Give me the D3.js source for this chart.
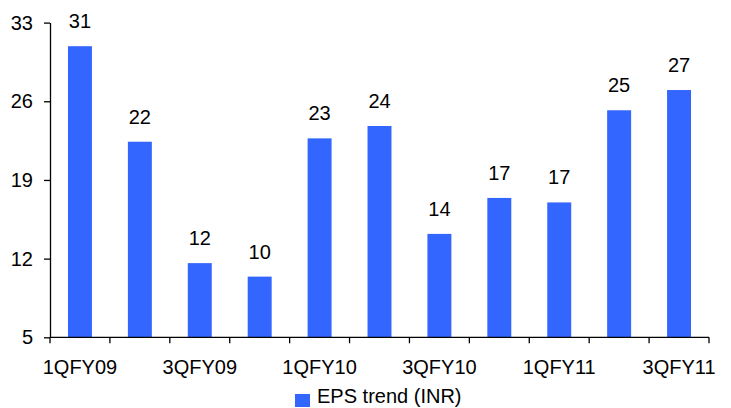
<!DOCTYPE html>
<html>
<head>
<meta charset="utf-8">
<script src="https://cdn.jsdelivr.net/npm/d3@7"></script>
<style>
  html, body { margin: 0; padding: 0; background: #fff; }
  svg { display: block; font-family: "Liberation Sans", Arial, sans-serif; }
</style>
</head>
<body>
<svg id="chart" width="731" height="408"></svg>
<script>
// Quarterly EPS (INR)
const quarters = ["1QFY09", "2QFY09", "3QFY09", "4QFY09", "1QFY10", "2QFY10",
                  "3QFY10", "4QFY10", "1QFY11", "2QFY11", "3QFY11"];
const eps = [30.9, 22.4, 11.6, 10.4, 22.7, 23.8, 14.2, 17.4, 17.0, 25.2, 27.0];
const yTicks = [5, 12, 19, 26, 33];
const seriesName = "EPS trend (INR)";

const barColor = "#3366FF";
const fontSize = 20;

const svg = d3.select("#chart");
const plotLeft = 50, plotRight = 709, plotTop = 22.6, plotBottom = 337.3;

const x = d3.scaleBand().domain(quarters).range([plotLeft, plotRight]).paddingInner(0.6).paddingOuter(0.3);
const y = d3.scaleLinear().domain([5, 33]).range([plotBottom, plotTop]);

// bars
svg.append("g").selectAll("rect")
  .data(eps)
  .join("rect")
  .attr("x", (d, i) => x(quarters[i]))
  .attr("width", x.bandwidth())
  .attr("y", d => y(d))
  .attr("height", d => y(5) - y(d))
  .attr("fill", barColor);

// value labels
svg.append("g").selectAll("text")
  .data(eps)
  .join("text")
  .attr("x", (d, i) => x(quarters[i]) + x.bandwidth() / 2)
  .attr("y", d => y(d) - 18)
  .attr("text-anchor", "middle")
  .attr("font-size", fontSize)
  .attr("fill", "#000")
  .text(d => d3.format(".0f")(d));

// y axis
const yAxis = svg.append("g")
  .attr("transform", `translate(${plotLeft},0)`)
  .call(d3.axisLeft(y).tickValues(yTicks).tickSize(6).tickPadding(11).tickSizeOuter(0));
yAxis.selectAll("text").attr("font-size", fontSize).attr("fill", "#000").attr("font-family", "Liberation Sans, Arial, sans-serif");
yAxis.selectAll("line, path").attr("stroke", "#000").attr("stroke-width", 1.3);

// x axis: labels on alternate quarters, tick marks between categories
const xAxis = svg.append("g")
  .attr("transform", `translate(0,${plotBottom})`)
  .call(d3.axisBottom(x)
    .tickValues(quarters.filter((q, i) => i % 2 === 0))
    .tickSize(0).tickSizeOuter(0).tickPadding(23));
xAxis.selectAll("text").attr("font-size", fontSize).attr("fill", "#000").attr("font-family", "Liberation Sans, Arial, sans-serif");
xAxis.select("path").attr("stroke", "#000").attr("stroke-width", 1.3)
  .attr("d", `M${plotLeft},0H${plotRight}`);

const boundaries = d3.range(quarters.length + 1).map(i => plotLeft + i * x.step());
xAxis.selectAll("line.sep")
  .data(boundaries)
  .join("line")
  .attr("class", "sep")
  .attr("x1", d => d).attr("x2", d => d)
  .attr("y1", 0).attr("y2", 6)
  .attr("stroke", "#000").attr("stroke-width", 1.3);

// legend
const legend = svg.append("g").attr("transform", "translate(295,394)");
legend.append("rect").attr("width", 15).attr("height", 13).attr("fill", barColor);
legend.append("text")
  .attr("x", 22).attr("y", 9)
  .attr("font-size", fontSize).attr("fill", "#000")
  .text(seriesName);
</script>
</body>
</html>
